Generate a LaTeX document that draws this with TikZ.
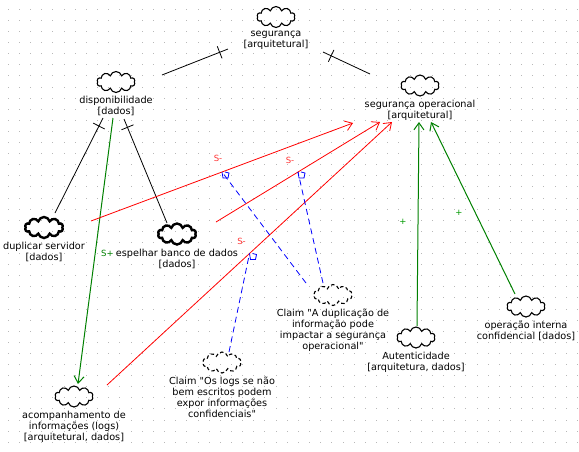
\documentclass[tikz,border=0pt]{standalone}
\usepackage{fontspec}
\setmainfont{DejaVu Sans}[Ligatures=TeXOff]
\usetikzlibrary{math,calc,positioning,shapes.symbols,arrows.meta,decorations.markings}
\tikzset{
  griddot/.style={fill=black!28},
  goal/.style={cloud, cloud puffs=10, aspect=1.8, draw=black, line width=1.1pt,
    minimum width=38pt, minimum height=21pt, inner sep=0pt},
  boldgoal/.style={goal, line width=2.4pt},
  claim/.style={goal, dash pattern=on 3.5pt off 2.5pt},
  glabel/.style={align=center, inner sep=0pt, font=\fontsize{9.7}{11}\selectfont,
    execute at begin node=\strut},
  sign/.style={inner sep=0pt, font=\fontsize{8.5}{10}\selectfont},
  decomp/.style={black, line width=0.8pt, postaction={decorate, decoration={markings,
    mark=at position 9pt with {\draw[line width=0.8pt] (0pt,-6.5pt) -- (0pt,6.5pt);}}}},
  hurt/.style={red, line width=0.8pt, -{Straight Barb[length=7pt,width=10pt]}},
  help/.style={green!50!black, line width=1pt, -{Straight Barb[length=7pt,width=10pt]}},
  claimlink/.style={blue, line width=0.8pt, dash pattern=on 6pt off 4pt},
  claimtip/.pic={\draw[blue, line width=0.8pt] (0,0) -- (1,6) -- (6,6) -- (7,1) -- (3,0);}
}
\begin{document}
\begin{tikzpicture}[x=1pt,y=-1pt]
  \tikzmath{\gx = 11.16; \gy = 11.1;}
  \useasboundingbox (0,0) rectangle (579,451);
  \foreach \i in {0,...,51}
    \foreach \j in {0,...,39}
      \fill[griddot] (7.8+\i*\gx,8.8+\j*\gy) rectangle ++(1,1);

  \node[goal] (seg) at (276,17) {};
  \node[glabel, below=3pt of seg] (seg-l) {segurança\\{[}arquitetural]};
  \node[goal] (dispo) at (116,82) {};
  \node[glabel, below=3pt of dispo] (dispo-l) {disponibilidade\\{[}dados]};
  \node[goal] (segop) at (420,85.5) {};
  \node[glabel, below=3pt of segop] (segop-l) {segurança operacional\\{[}arquitetural]};
  \node[boldgoal] (dupl) at (44,227.5) {};
  \node[glabel, below=3pt of dupl] (dupl-l) {duplicar servidor\\{[}dados]};
  \node[boldgoal] (espe) at (177,234) {};
  \node[glabel, below=3pt of espe] (espe-l) {espelhar banco de dados\\{[}dados]};
  \node[goal] (acomp) at (74,396.5) {};
  \node[glabel, below=3pt of acomp] (acomp-l) {acompanhamento de\\informações (logs)\\{[}arquitetural, dados]};
  \node[claim] (claimlog) at (222,362.5) {};
  \node[glabel, below=3pt of claimlog] (claimlog-l) {Claim "Os logs se não\\bem escritos podem\\expor informações\\confidenciais"};
  \node[claim] (claimdup) at (333,295) {};
  \node[glabel, below=3pt of claimdup] (claimdup-l) {Claim "A duplicação de\\informação pode\\impactar a segurança\\operacional"};
  \node[goal] (auten) at (416,337.5) {};
  \node[glabel, below=3pt of auten] (auten-l) {Autenticidade\\{[}arquitetura, dados]};
  \node[goal] (oper) at (526,306.5) {};
  \node[glabel, below=3pt of oper] (oper-l) {operação interna\\confidencial {[}dados]};

  \draw[decomp] ($(seg)+(-48,32)$) -- ($(dispo)+(46,-7)$);
  \draw[decomp] ($(seg)+(47,35)$) -- ($(segop)+(-50,-11.5)$);
  \draw[decomp] ($(dispo)+(-13,36)$) -- ($(dupl)+(11,-14.5)$);
  \draw[decomp] ($(dispo)+(8,37)$) -- ($(espe)+(-10,-11)$);

  \draw[help] ($(dispo)+(-3,36)$) -- node[pos=0.5, shift={(12,2)}, sign, text=green!50!black] {S+} ($(acomp)+(4,-12.5)$);
  \draw[hurt] ($(dupl)+(47,-6.5)$) -- node[pos=0.5, shift={(-4,-14)}, sign, text=red!80] {S-} coordinate[pos=0.5] (f-mid) ($(segop)+(-67,37.5)$);
  \draw[hurt] ($(espe)+(39,-12)$) -- node[pos=0.5, shift={(-8,-12)}, sign, text=red!80] {S-} coordinate[pos=0.5] (g-mid) ($(segop)+(-40,36.5)$);
  \draw[hurt] ($(acomp)+(33,-11.5)$) -- node[pos=0.5, shift={(-8,-12)}, sign, text=red!80] {S-} coordinate[pos=0.5] (h-mid) ($(segop)+(-28,36.5)$);
  \draw[help] ($(auten)+(1,-11.5)$) -- node[pos=0.5, shift={(-15,-2)}, sign, text=green!60!black] {+} ($(segop)+(-1,36.5)$);
  \draw[help] ($(oper)+(-11,-12.5)$) -- node[pos=0.5, shift={(-14,5)}, sign, text=green!60!black] {+} ($(segop)+(11,36.5)$);

  \draw[claimlink] ($(claimdup)+(-27,-12)$) -- (f-mid);
  \draw[claimlink] ($(claimdup)+(-10,-12)$) -- (g-mid);
  \draw[claimlink] ($(claimlog)+(7,-10.5)$) -- (h-mid);
  \pic at (f-mid) {claimtip};
  \pic at (g-mid) {claimtip};
  \pic at (h-mid) {claimtip};
\end{tikzpicture}
\end{document}
